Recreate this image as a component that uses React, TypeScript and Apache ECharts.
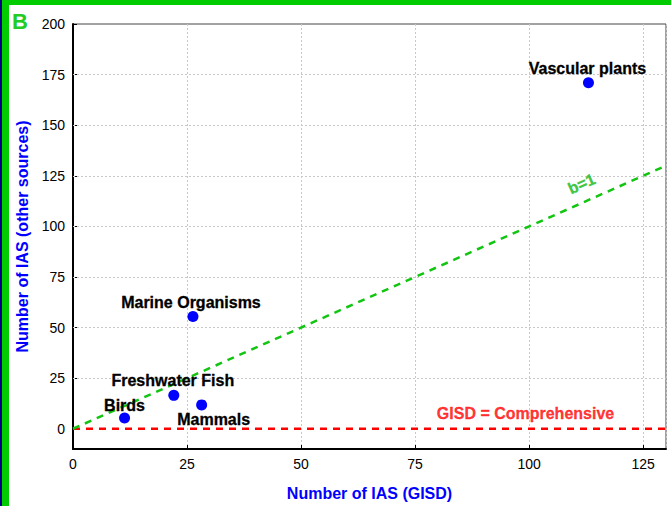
import React, { useEffect, useRef } from "react";
import * as echarts from "echarts";

const groups = ["Vascular plants", "Marine Organisms", "Freshwater Fish", "Mammals", "Birds"];
const gisdCounts = [113, 26.3, 22.1, 28.2, 11.3];
const otherCounts = [171, 55.5, 16.5, 11.8, 5.3];
const xTicks = [0, 25, 50, 75, 100, 125];
const yTicks = [0, 25, 50, 75, 100, 125, 150, 175, 200];
const oneToOneLine = [[0, 0], [130, 130]];
const comprehensiveLine = [[0, 0], [130, 0]];

const labelOffsets: Record<string, [number, number]> = {
  "Vascular plants": [-1, -14],
  "Marine Organisms": [-2, -14],
  "Freshwater Fish": [-1, -15],
  "Mammals": [12, 15],
  "Birds": [0, -13],
};

export default function App() {
  const ref = useRef<HTMLDivElement>(null);
  useEffect(() => {
    document.body.style.margin = "0";
    const chart = echarts.init(ref.current!, undefined, { renderer: "svg" });
    const font = "Arial, 'Liberation Sans', sans-serif";
    const grid = { color: "#c8c8c8", type: [2, 2], width: 1 };
    chart.setOption({
      animation: false,
      backgroundColor: "#fff",
      grid: { left: 73, right: 5, top: 24, bottom: 56, show: true, borderColor: "#444", borderWidth: 1 },
      xAxis: {
        type: "value",
        min: 0,
        max: 130,
        interval: 25,
        name: "Number of IAS (GISD)",
        nameLocation: "middle",
        nameGap: 36,
        nameTextStyle: { color: "#0000ff", fontWeight: "bold", fontSize: 16, fontFamily: font },
        axisLine: { show: true, onZero: false, lineStyle: { color: "#000", width: 2 } },
        axisTick: { show: true, inside: true, length: 4, lineStyle: { color: "#000" } },
        axisLabel: { color: "#000", fontSize: 14, fontFamily: font, margin: 8, showMaxLabel: false,
          formatter: (v: number) => (xTicks.includes(v) ? String(v) : "") },
        splitLine: { show: true, lineStyle: grid },
      },
      yAxis: {
        type: "value",
        min: -10,
        max: 200,
        name: "Number of IAS (other sources)",
        nameLocation: "middle",
        nameGap: 36,
        nameTextStyle: { color: "#0000ff", fontWeight: "bold", fontSize: 16, fontFamily: font },
        axisLine: { show: true, onZero: false, lineStyle: { color: "#000", width: 2 } },
        axisTick: { show: true, inside: true, length: 4, lineStyle: { color: "#000" }, customValues: yTicks },
        axisLabel: { color: "#000", fontSize: 14, fontFamily: font, margin: 8, customValues: yTicks },
        splitLine: { show: false },
      },
      graphic: [
        { type: "text", left: 12, top: 10, style: { text: "B", fill: "#22cc22", font: "bold 22px Arial, 'Liberation Sans', sans-serif" } },
      ],
      series: [
        {
          type: "line",
          data: comprehensiveLine,
          symbol: "none",
          lineStyle: { color: "#ff0000", width: 2.5, type: [7, 6] },
          z: 3,
          markLine: {
            silent: true,
            symbol: "none",
            label: { show: false },
            lineStyle: grid,
            z: 1,
            data: yTicks.filter((v) => v > 0 && v < 200).map((v) => ({ yAxis: v })),
          },
        },
        {
          type: "line",
          data: oneToOneLine,
          symbol: "none",
          lineStyle: { color: "#11c511", width: 2.5, type: [7, 6] },
          z: 3,
        },
        {
          type: "scatter",
          data: [[111.5, 121]],
          symbolSize: 0,
          label: { show: true, position: "inside", formatter: "b=1", rotate: 24, color: "#10b810",
            fontWeight: "bold", fontSize: 16, fontFamily: font, textBorderColor: "#10b810", textBorderWidth: 0.3 },
          z: 4,
        },
        {
          type: "scatter",
          data: [[99.2, 7.4]],
          symbolSize: 0,
          label: { show: true, position: "inside", formatter: "GISD = Comprehensive", color: "#ff0000",
            fontWeight: "bold", fontSize: 16, fontFamily: font, textBorderColor: "#ff0000", textBorderWidth: 0.3 },
          z: 4,
        },
        {
          type: "scatter",
          symbolSize: 11,
          itemStyle: { color: "#0000ff", opacity: 1 },
          z: 5,
          data: groups.map((g, i) => ({
            name: g,
            value: [gisdCounts[i], otherCounts[i]],
            label: { offset: labelOffsets[g] },
          })),
          label: {
            show: true,
            position: "inside",
            formatter: "{b}",
            color: "#000",
            fontWeight: "bold",
            fontSize: 16,
            fontFamily: font,
            textBorderColor: "#000",
            textBorderWidth: 0.3,
          },
        },
      ],
    });
    return () => chart.dispose();
  }, []);
  return (
    <div style={{ position: "relative", width: 671, height: 506, background: "#fff" }}>
      <div ref={ref} style={{ position: "absolute", left: 0, top: 0, width: 671, height: 506 }} />
      <div style={{ position: "absolute", left: 0, top: 0, width: 2, height: 506, background: "#000080" }} />
      <div style={{ position: "absolute", left: 2, top: 0, width: 7, height: 506, background: "#00cc00" }} />
      <div style={{ position: "absolute", left: 2, top: 0, width: 669, height: 5, background: "#00cc00" }} />
    </div>
  );
}
